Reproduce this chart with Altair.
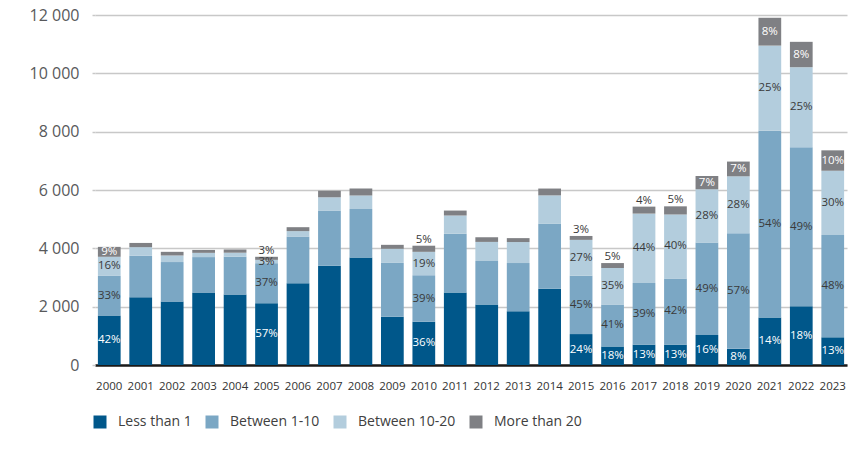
import altair as alt
import pandas as pd

years = [str(y) for y in range(2000, 2024)]
categories = ["Less than 1", "Between 1-10", "Between 10-20", "More than 20"]
colors = ["#00578a", "#7ba7c4", "#b3cddd", "#7f8084"]

dark = [1700, 2320, 2175, 2490, 2415, 2120, 2805, 3400, 3690, 1655, 1480, 2490,
        2075, 1845, 2615, 1060, 635, 700, 700, 1030, 555, 1630, 2015, 950]
mid = [1355, 1425, 1355, 1210, 1300, 1370, 1605, 1885, 1660, 1845, 1600, 2010,
       1490, 1650, 2225, 2000, 1440, 2110, 2270, 3170, 3960, 6400, 5450, 3510]
light = [655, 295, 225, 145, 135, 115, 180, 465, 465, 485, 800, 625,
         655, 720, 975, 1230, 1250, 2380, 2190, 1825, 1955, 2920, 2745, 2200]
gray = [340, 145, 125, 100, 110, 105, 135, 225, 235, 135, 210, 170,
        160, 135, 235, 134, 170, 240, 280, 455, 505, 955, 870, 700]

pct_dark = ["42%", "", "", "", "", "57%", "", "", "", "", "36%", "",
            "", "", "", "24%", "18%", "13%", "13%", "16%", "8%", "14%", "18%", "13%"]
pct_mid = ["33%", "", "", "", "", "37%", "", "", "", "", "39%", "",
           "", "", "", "45%", "41%", "39%", "42%", "49%", "57%", "54%", "49%", "48%"]
pct_light = ["16%", "", "", "", "", "3%", "", "", "", "", "19%", "",
             "", "", "", "27%", "35%", "44%", "40%", "28%", "28%", "25%", "25%", "30%"]
pct_gray = ["9%", "", "", "", "", "3%", "", "", "", "", "5%", "",
            "", "", "", "3%", "5%", "4%", "5%", "7%", "7%", "8%", "8%", "10%"]

rows = []
for ci, (vals, labs) in enumerate(zip([dark, mid, light, gray],
                                      [pct_dark, pct_mid, pct_light, pct_gray])):
    for y, v, l in zip(years, vals, labs):
        rows.append({"year": y, "cat": categories[ci], "ord": ci, "value": v, "label": l})
df = pd.DataFrame(rows)

FONT = "Open Sans"

base = alt.Chart(df).transform_stack(
    stack="value", as_=["y0", "y1"], groupby=["year"],
    sort=[alt.SortField("ord", order="ascending")]
).transform_calculate(
    mid="(datum.y0 + datum.y1) / 2",
    above="datum.ord == 3 && datum.value < 300",
)

xenc = alt.X("year:O", title=None,
             scale=alt.Scale(paddingInner=0.277, paddingOuter=0.092),
             axis=alt.Axis(labelAngle=0, ticks=False, labelPadding=21,
                           labelBaseline="middle", labelFontSize=11.5,
                           labelColor="#333333", labelFont=FONT,
                           domainColor="#1a1a1a", domainWidth=2.5, grid=False))

bars = base.mark_bar().encode(
    x=xenc,
    y=alt.Y("y0:Q", title=None,
            scale=alt.Scale(domain=[0, 12000], nice=False),
            axis=alt.Axis(values=list(range(0, 12001, 2000)),
                          labelExpr="replace(format(datum.value, ','), ',', ' ')",
                          labelFontSize=16, labelColor="#58595b", labelFont=FONT,
                          labelPadding=13, tickSize=3, tickColor="#c8c8c8",
                          tickWidth=1.5, domain=False, grid=True,
                          gridColor="#c8c8c8", gridWidth=1.5)),
    y2="y1:Q",
    color=alt.Color("cat:N", title=None,
                    scale=alt.Scale(domain=categories, range=colors),
                    sort=categories,
                    legend=alt.Legend(orient="none", direction="horizontal",
                                      legendX=-2, legendY=400, padding=0,
                                      symbolType="square", symbolSize=169,
                                      symbolStrokeWidth=0, symbolOpacity=1,
                                      labelFontSize=14, labelFont=FONT,
                                      labelColor="#404040", labelOffset=11,
                                      columnPadding=13)),
    order=alt.Order("ord:Q"),
)

inside = base.transform_filter("datum.label != '' && !datum.above").transform_calculate(
    lc="(datum.ord == 0 || datum.ord == 3) ? 'white' : '#3a3a3a'"
).mark_text(fontSize=11.5, font=FONT, baseline="middle", align="center").encode(
    x=alt.X("year:O"),
    y=alt.Y("mid:Q"),
    text="label:N",
    color=alt.Color("lc:N", scale=None),
)

top = base.transform_filter("datum.label != '' && datum.above").mark_text(
    fontSize=11.5, font=FONT, baseline="bottom", align="center", dy=-1,
    color="#3a3a3a"
).encode(
    x=alt.X("year:O"),
    y=alt.Y("y1:Q"),
    text="label:N",
)

chart = alt.layer(bars, inside, top).properties(
    width=752, height=350,
    autosize=alt.AutoSizeParams(type="none"),
    padding={"left": 87, "top": 7, "right": 5, "bottom": 68},
).configure_view(stroke=None)

chart.save("out.html", embed_options={"renderer": "svg", "actions": False})
